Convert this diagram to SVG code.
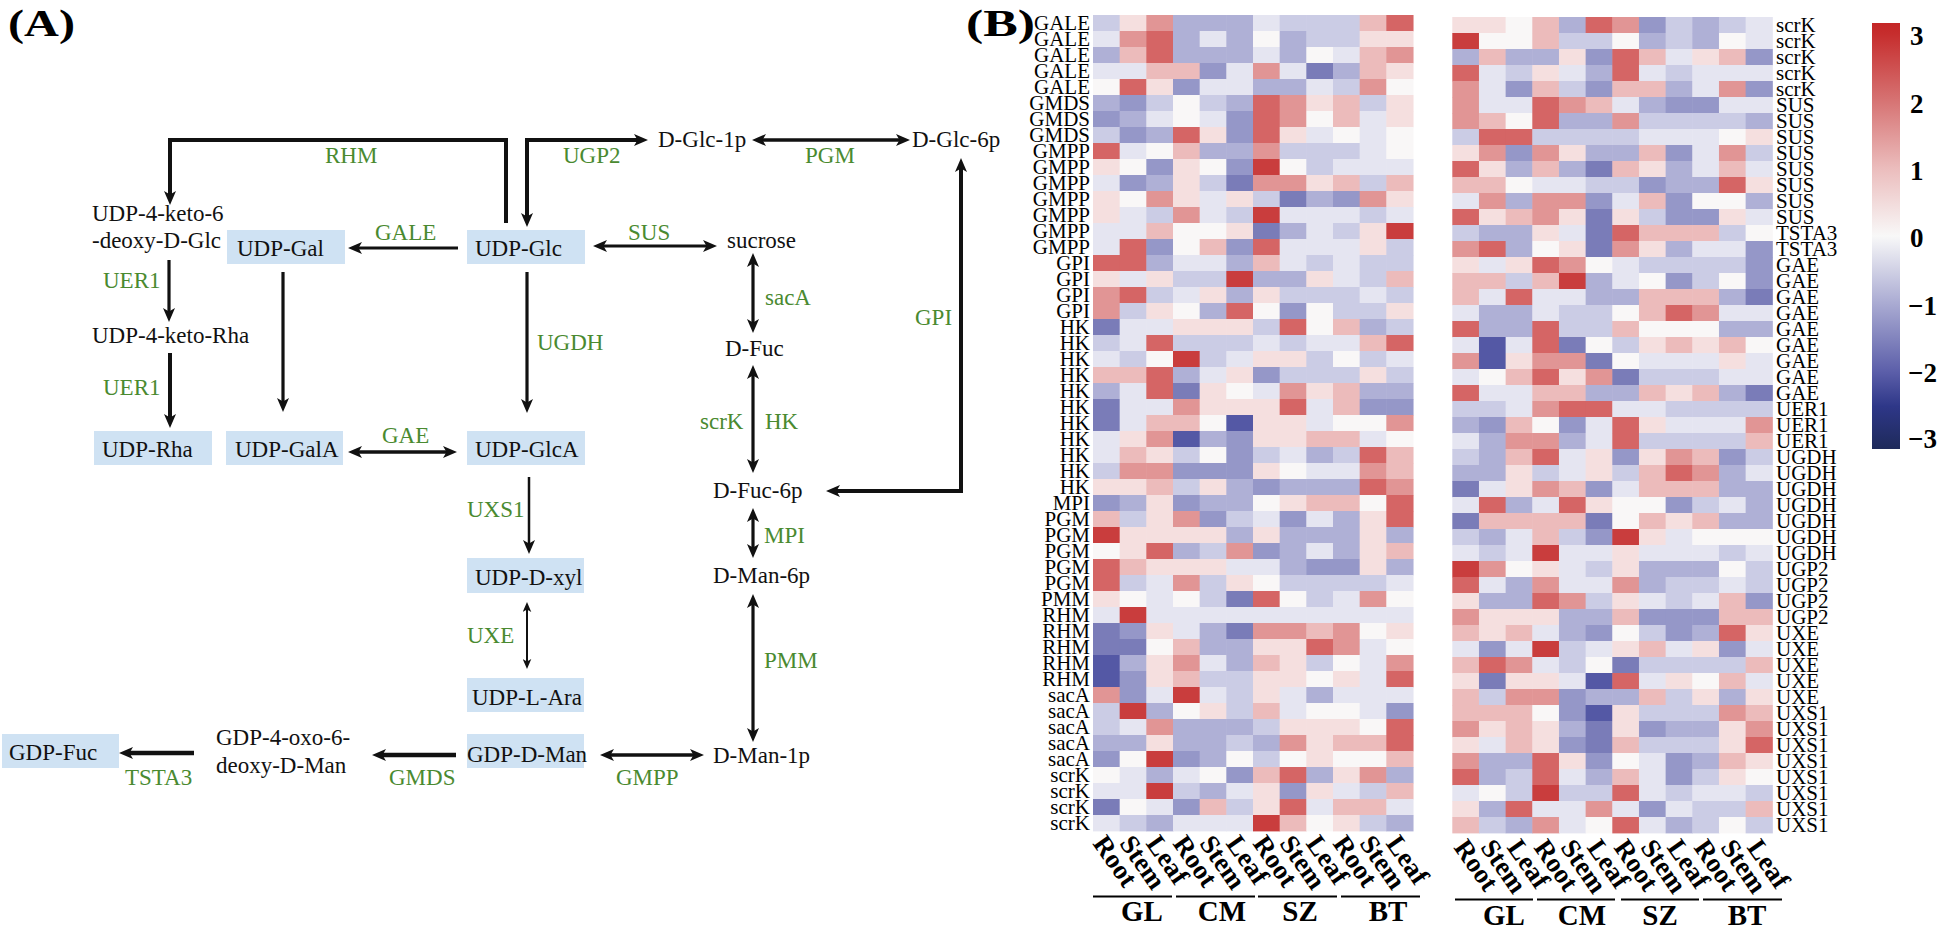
<svg xmlns="http://www.w3.org/2000/svg" xmlns:xlink="http://www.w3.org/1999/xlink" width="1944" height="929" viewBox="0 0 1944 929">
<style>
.t{font-family:"Liberation Serif","Times New Roman",serif;font-size:23px;fill:#111}
.g{font-family:"Liberation Serif","Times New Roman",serif;font-size:23px;fill:#4a8a30}
.bx{fill:#cfe2f3}
.ln{fill:none;stroke:#111;stroke-width:3.2}
.hl{font-family:"Liberation Serif","Times New Roman",serif;font-size:21px;fill:#000}
.cl{font-family:"Liberation Serif","Times New Roman",serif;font-size:27px;font-weight:bold;fill:#000}
.gl{font-family:"Liberation Serif","Times New Roman",serif;font-size:29px;font-weight:bold;fill:#000;text-anchor:middle}
.pl{font-family:"Liberation Serif","Times New Roman",serif;font-size:37px;font-weight:bold;fill:#000}
.R{fill:#c93d3d}.r{fill:#d56565}.m{fill:#e19595}.p{fill:#ecbbbb}.q{fill:#f5dfdf}.w{fill:#f9f7f7}
.l{fill:#e5e5f1}.b{fill:#cbcce5}.B{fill:#afb0d6}.d{fill:#9597c8}.D{fill:#7a7cb8}.N{fill:#5458a5}
</style>
<defs>
<marker id="ah" viewBox="0 0 14 12" markerWidth="14" markerHeight="12" refX="7" refY="6" orient="auto-start-reverse" markerUnits="userSpaceOnUse"><path d="M0,0 L14,6 L0,12 L3.5,6 Z" fill="#111"/></marker>
<marker id="as" viewBox="0 0 14 12" markerWidth="10" markerHeight="9" refX="7" refY="6" orient="auto-start-reverse" markerUnits="userSpaceOnUse"><path d="M0,0 L14,6 L0,12 L3.5,6 Z" fill="#111"/></marker>
<rect id="c" width="27.2" height="16.4"/>
<linearGradient id="cb" x1="0" y1="0" x2="0" y2="1">
<stop offset="0" stop-color="#c42626"/>
<stop offset="0.025" stop-color="#c62d2d"/>
<stop offset="0.18" stop-color="#d67272"/>
<stop offset="0.34" stop-color="#ebbcbc"/>
<stop offset="0.5" stop-color="#f8f8f8"/>
<stop offset="0.66" stop-color="#a9aad2"/>
<stop offset="0.82" stop-color="#5b5ea9"/>
<stop offset="0.90" stop-color="#2e3788"/>
<stop offset="1" stop-color="#1e2a5a"/>
</linearGradient>
</defs>
<rect width="1944" height="929" fill="#fff"/>

<text class="pl" x="8" y="36" textLength="67" lengthAdjust="spacingAndGlyphs">(A)</text>
<text class="pl" x="966" y="36" textLength="69" lengthAdjust="spacingAndGlyphs">(B)</text>

<g id="connectors">
<path class="ln" style="stroke-width:4" d="M506,223 V140 H170 V198" marker-end="url(#ah)"/>
<path class="ln" style="stroke-width:4" d="M527,220 V140 H641" marker-start="url(#ah)" marker-end="url(#ah)"/>
<path class="ln" style="stroke-width:3.5" d="M759,140 H903" marker-start="url(#ah)" marker-end="url(#ah)"/>
<path class="ln" style="stroke-width:4" d="M961,165 V491 H833" marker-start="url(#ah)" marker-end="url(#ah)"/>
<path class="ln" d="M458,248 H355" marker-end="url(#ah)"/>
<path class="ln" d="M600,246 H710" marker-start="url(#ah)" marker-end="url(#ah)"/>
<path class="ln" d="M169,260 V315" marker-end="url(#ah)"/>
<path class="ln" style="stroke-width:4" d="M170,353 V421" marker-end="url(#ah)"/>
<path class="ln" d="M283,272 V405" marker-end="url(#ah)"/>
<path class="ln" d="M527,272 V406" marker-end="url(#ah)"/>
<path class="ln" style="stroke-width:3.6" d="M355,452 H450" marker-start="url(#ah)" marker-end="url(#ah)"/>
<path class="ln" d="M753,260 V326" marker-start="url(#ah)" marker-end="url(#ah)"/>
<path class="ln" d="M753,372 V466" marker-start="url(#ah)" marker-end="url(#ah)"/>
<path class="ln" d="M753,515 V551" marker-start="url(#ah)" marker-end="url(#ah)"/>
<path class="ln" d="M753,601 V735" marker-start="url(#ah)" marker-end="url(#ah)"/>
<path class="ln" style="stroke-width:2.5" d="M529,477 V547" marker-end="url(#ah)"/>
<path class="ln" style="stroke-width:2" d="M527,607 V664" marker-start="url(#as)" marker-end="url(#as)"/>
<path class="ln" style="stroke-width:3.6" d="M607,755 H697" marker-start="url(#ah)" marker-end="url(#ah)"/>
<path class="ln" style="stroke-width:4.5" d="M456,755 H379" marker-end="url(#ah)"/>
<path class="ln" style="stroke-width:4.5" d="M194,753 H126" marker-end="url(#ah)"/>
</g>

<g id="enzymes">
<text class="g" x="325" y="163">RHM</text>
<text class="g" x="563" y="163">UGP2</text>
<text class="g" x="805" y="163">PGM</text>
<text class="g" x="375" y="240">GALE</text>
<text class="g" x="628" y="240">SUS</text>
<text class="g" x="103" y="288">UER1</text>
<text class="g" x="103" y="395">UER1</text>
<text class="g" x="537" y="350">UGDH</text>
<text class="g" x="765" y="305">sacA</text>
<text class="g" x="915" y="325">GPI</text>
<text class="g" x="382" y="443">GAE</text>
<text class="g" x="700" y="429">scrK</text>
<text class="g" x="765" y="429">HK</text>
<text class="g" x="467" y="517">UXS1</text>
<text class="g" x="764" y="543">MPI</text>
<text class="g" x="467" y="643">UXE</text>
<text class="g" x="764" y="668">PMM</text>
<text class="g" x="616" y="785">GMPP</text>
<text class="g" x="389" y="785">GMDS</text>
<text class="g" x="125" y="785">TSTA3</text>
</g>

<g id="n-udp-keto-deoxy"><text class="t" x="92" y="221">UDP-4-keto-6</text><text class="t" x="92" y="248">-deoxy-D-Glc</text></g>
<g id="n-udp-keto-rha"><text class="t" x="92" y="343">UDP-4-keto-Rha</text></g>
<g id="n-udp-gal"><rect class="bx" x="227" y="230" width="118" height="34"/><text class="t" x="237" y="256">UDP-Gal</text></g>
<g id="n-udp-glc"><rect class="bx" x="467" y="230" width="118" height="34"/><text class="t" x="475" y="256">UDP-Glc</text></g>
<g id="n-udp-rha"><rect class="bx" x="94" y="431" width="118" height="34"/><text class="t" x="102" y="457">UDP-Rha</text></g>
<g id="n-udp-gala"><rect class="bx" x="226" y="431" width="117" height="34"/><text class="t" x="235" y="457">UDP-GalA</text></g>
<g id="n-udp-glca"><rect class="bx" x="467" y="431" width="118" height="34"/><text class="t" x="475" y="457">UDP-GlcA</text></g>
<g id="n-udp-xyl"><rect class="bx" x="467" y="558" width="117" height="35"/><text class="t" x="475" y="585">UDP-D-xyl</text></g>
<g id="n-udp-ara"><rect class="bx" x="467" y="678" width="117" height="34"/><text class="t" x="472" y="705">UDP-L-Ara</text></g>
<g id="n-gdp-man"><rect class="bx" x="467" y="734" width="117" height="34"/><text class="t" x="467" y="762">GDP-D-Man</text></g>
<g id="n-gdp-fuc"><rect class="bx" x="2" y="734" width="117" height="34"/><text class="t" x="9" y="760">GDP-Fuc</text></g>
<g id="n-gdp-oxo"><text class="t" x="216" y="745">GDP-4-oxo-6-</text><text class="t" x="216" y="773">deoxy-D-Man</text></g>
<g id="n-glc1p"><text class="t" x="658" y="147">D-Glc-1p</text></g>
<g id="n-glc6p"><text class="t" x="912" y="147">D-Glc-6p</text></g>
<g id="n-sucrose"><text class="t" x="727" y="248">sucrose</text></g>
<g id="n-fuc"><text class="t" x="725" y="356">D-Fuc</text></g>
<g id="n-fuc6p"><text class="t" x="713" y="498">D-Fuc-6p</text></g>
<g id="n-man6p"><text class="t" x="713" y="583">D-Man-6p</text></g>
<g id="n-man1p"><text class="t" x="713" y="763">D-Man-1p</text></g>

<g id="heatmap-left">
<g transform="translate(1093,15)"><use href="#c" class="b"/><use href="#c" x="26.67" class="q"/><use href="#c" x="53.33" class="m"/><use href="#c" x="80" class="B"/><use href="#c" x="106.67" class="B"/><use href="#c" x="133.33" class="B"/><use href="#c" x="160" class="l"/><use href="#c" x="186.67" class="b"/><use href="#c" x="213.33" class="b"/><use href="#c" x="240" class="b"/><use href="#c" x="266.67" class="p"/><use href="#c" x="293.33" class="r"/></g>
<g transform="translate(1093,31)"><use href="#c" class="l"/><use href="#c" x="26.67" class="m"/><use href="#c" x="53.33" class="r"/><use href="#c" x="80" class="B"/><use href="#c" x="106.67" class="l"/><use href="#c" x="133.33" class="B"/><use href="#c" x="160" class="w"/><use href="#c" x="186.67" class="B"/><use href="#c" x="213.33" class="b"/><use href="#c" x="240" class="b"/><use href="#c" x="266.67" class="q"/><use href="#c" x="293.33" class="q"/></g>
<g transform="translate(1093,47)"><use href="#c" class="B"/><use href="#c" x="26.67" class="p"/><use href="#c" x="53.33" class="r"/><use href="#c" x="80" class="B"/><use href="#c" x="106.67" class="B"/><use href="#c" x="133.33" class="B"/><use href="#c" x="160" class="l"/><use href="#c" x="186.67" class="B"/><use href="#c" x="213.33" class="w"/><use href="#c" x="240" class="l"/><use href="#c" x="266.67" class="p"/><use href="#c" x="293.33" class="m"/></g>
<g transform="translate(1093,63)"><use href="#c" class="l"/><use href="#c" x="26.67" class="l"/><use href="#c" x="53.33" class="p"/><use href="#c" x="80" class="p"/><use href="#c" x="106.67" class="d"/><use href="#c" x="133.33" class="l"/><use href="#c" x="160" class="m"/><use href="#c" x="186.67" class="l"/><use href="#c" x="213.33" class="D"/><use href="#c" x="240" class="B"/><use href="#c" x="266.67" class="p"/><use href="#c" x="293.33" class="q"/></g>
<g transform="translate(1093,79)"><use href="#c" class="w"/><use href="#c" x="26.67" class="r"/><use href="#c" x="53.33" class="q"/><use href="#c" x="80" class="d"/><use href="#c" x="106.67" class="l"/><use href="#c" x="133.33" class="l"/><use href="#c" x="160" class="B"/><use href="#c" x="186.67" class="B"/><use href="#c" x="213.33" class="l"/><use href="#c" x="240" class="b"/><use href="#c" x="266.67" class="m"/><use href="#c" x="293.33" class="w"/></g>
<g transform="translate(1093,95)"><use href="#c" class="B"/><use href="#c" x="26.67" class="d"/><use href="#c" x="53.33" class="b"/><use href="#c" x="80" class="w"/><use href="#c" x="106.67" class="b"/><use href="#c" x="133.33" class="B"/><use href="#c" x="160" class="r"/><use href="#c" x="186.67" class="m"/><use href="#c" x="213.33" class="q"/><use href="#c" x="240" class="p"/><use href="#c" x="266.67" class="b"/><use href="#c" x="293.33" class="q"/></g>
<g transform="translate(1093,111)"><use href="#c" class="d"/><use href="#c" x="26.67" class="B"/><use href="#c" x="53.33" class="l"/><use href="#c" x="80" class="w"/><use href="#c" x="106.67" class="l"/><use href="#c" x="133.33" class="d"/><use href="#c" x="160" class="r"/><use href="#c" x="186.67" class="m"/><use href="#c" x="213.33" class="w"/><use href="#c" x="240" class="p"/><use href="#c" x="266.67" class="l"/><use href="#c" x="293.33" class="q"/></g>
<g transform="translate(1093,127)"><use href="#c" class="b"/><use href="#c" x="26.67" class="d"/><use href="#c" x="53.33" class="B"/><use href="#c" x="80" class="r"/><use href="#c" x="106.67" class="q"/><use href="#c" x="133.33" class="d"/><use href="#c" x="160" class="r"/><use href="#c" x="186.67" class="q"/><use href="#c" x="213.33" class="l"/><use href="#c" x="240" class="w"/><use href="#c" x="266.67" class="l"/><use href="#c" x="293.33" class="w"/></g>
<g transform="translate(1093,143)"><use href="#c" class="r"/><use href="#c" x="26.67" class="l"/><use href="#c" x="53.33" class="w"/><use href="#c" x="80" class="p"/><use href="#c" x="106.67" class="B"/><use href="#c" x="133.33" class="B"/><use href="#c" x="160" class="m"/><use href="#c" x="186.67" class="b"/><use href="#c" x="213.33" class="b"/><use href="#c" x="240" class="b"/><use href="#c" x="266.67" class="l"/><use href="#c" x="293.33" class="w"/></g>
<g transform="translate(1093,159)"><use href="#c" class="q"/><use href="#c" x="26.67" class="w"/><use href="#c" x="53.33" class="d"/><use href="#c" x="80" class="q"/><use href="#c" x="106.67" class="w"/><use href="#c" x="133.33" class="d"/><use href="#c" x="160" class="R"/><use href="#c" x="186.67" class="w"/><use href="#c" x="213.33" class="b"/><use href="#c" x="240" class="l"/><use href="#c" x="266.67" class="l"/><use href="#c" x="293.33" class="l"/></g>
<g transform="translate(1093,175)"><use href="#c" class="l"/><use href="#c" x="26.67" class="d"/><use href="#c" x="53.33" class="B"/><use href="#c" x="80" class="q"/><use href="#c" x="106.67" class="b"/><use href="#c" x="133.33" class="D"/><use href="#c" x="160" class="m"/><use href="#c" x="186.67" class="m"/><use href="#c" x="213.33" class="q"/><use href="#c" x="240" class="p"/><use href="#c" x="266.67" class="b"/><use href="#c" x="293.33" class="p"/></g>
<g transform="translate(1093,191)"><use href="#c" class="q"/><use href="#c" x="26.67" class="w"/><use href="#c" x="53.33" class="m"/><use href="#c" x="80" class="q"/><use href="#c" x="106.67" class="l"/><use href="#c" x="133.33" class="q"/><use href="#c" x="160" class="b"/><use href="#c" x="186.67" class="D"/><use href="#c" x="213.33" class="B"/><use href="#c" x="240" class="d"/><use href="#c" x="266.67" class="m"/><use href="#c" x="293.33" class="q"/></g>
<g transform="translate(1093,207)"><use href="#c" class="q"/><use href="#c" x="26.67" class="l"/><use href="#c" x="53.33" class="b"/><use href="#c" x="80" class="m"/><use href="#c" x="106.67" class="l"/><use href="#c" x="133.33" class="b"/><use href="#c" x="160" class="R"/><use href="#c" x="186.67" class="l"/><use href="#c" x="213.33" class="l"/><use href="#c" x="240" class="l"/><use href="#c" x="266.67" class="b"/><use href="#c" x="293.33" class="l"/></g>
<g transform="translate(1093,223)"><use href="#c" class="l"/><use href="#c" x="26.67" class="l"/><use href="#c" x="53.33" class="p"/><use href="#c" x="80" class="w"/><use href="#c" x="106.67" class="w"/><use href="#c" x="133.33" class="q"/><use href="#c" x="160" class="D"/><use href="#c" x="186.67" class="B"/><use href="#c" x="213.33" class="l"/><use href="#c" x="240" class="b"/><use href="#c" x="266.67" class="q"/><use href="#c" x="293.33" class="R"/></g>
<g transform="translate(1093,239)"><use href="#c" class="l"/><use href="#c" x="26.67" class="r"/><use href="#c" x="53.33" class="d"/><use href="#c" x="80" class="w"/><use href="#c" x="106.67" class="p"/><use href="#c" x="133.33" class="d"/><use href="#c" x="160" class="r"/><use href="#c" x="186.67" class="l"/><use href="#c" x="213.33" class="l"/><use href="#c" x="240" class="l"/><use href="#c" x="266.67" class="q"/><use href="#c" x="293.33" class="b"/></g>
<g transform="translate(1093,255)"><use href="#c" class="r"/><use href="#c" x="26.67" class="r"/><use href="#c" x="53.33" class="B"/><use href="#c" x="80" class="l"/><use href="#c" x="106.67" class="l"/><use href="#c" x="133.33" class="B"/><use href="#c" x="160" class="p"/><use href="#c" x="186.67" class="l"/><use href="#c" x="213.33" class="b"/><use href="#c" x="240" class="l"/><use href="#c" x="266.67" class="b"/><use href="#c" x="293.33" class="b"/></g>
<g transform="translate(1093,271)"><use href="#c" class="q"/><use href="#c" x="26.67" class="l"/><use href="#c" x="53.33" class="q"/><use href="#c" x="80" class="b"/><use href="#c" x="106.67" class="b"/><use href="#c" x="133.33" class="R"/><use href="#c" x="160" class="B"/><use href="#c" x="186.67" class="B"/><use href="#c" x="213.33" class="q"/><use href="#c" x="240" class="l"/><use href="#c" x="266.67" class="b"/><use href="#c" x="293.33" class="p"/></g>
<g transform="translate(1093,287)"><use href="#c" class="m"/><use href="#c" x="26.67" class="r"/><use href="#c" x="53.33" class="b"/><use href="#c" x="80" class="l"/><use href="#c" x="106.67" class="q"/><use href="#c" x="133.33" class="B"/><use href="#c" x="160" class="q"/><use href="#c" x="186.67" class="b"/><use href="#c" x="213.33" class="b"/><use href="#c" x="240" class="b"/><use href="#c" x="266.67" class="l"/><use href="#c" x="293.33" class="b"/></g>
<g transform="translate(1093,303)"><use href="#c" class="m"/><use href="#c" x="26.67" class="b"/><use href="#c" x="53.33" class="q"/><use href="#c" x="80" class="w"/><use href="#c" x="106.67" class="B"/><use href="#c" x="133.33" class="r"/><use href="#c" x="160" class="w"/><use href="#c" x="186.67" class="d"/><use href="#c" x="213.33" class="w"/><use href="#c" x="240" class="b"/><use href="#c" x="266.67" class="b"/><use href="#c" x="293.33" class="q"/></g>
<g transform="translate(1093,319)"><use href="#c" class="D"/><use href="#c" x="26.67" class="l"/><use href="#c" x="53.33" class="l"/><use href="#c" x="80" class="q"/><use href="#c" x="106.67" class="q"/><use href="#c" x="133.33" class="q"/><use href="#c" x="160" class="b"/><use href="#c" x="186.67" class="r"/><use href="#c" x="213.33" class="w"/><use href="#c" x="240" class="p"/><use href="#c" x="266.67" class="B"/><use href="#c" x="293.33" class="b"/></g>
<g transform="translate(1093,335)"><use href="#c" class="b"/><use href="#c" x="26.67" class="l"/><use href="#c" x="53.33" class="r"/><use href="#c" x="80" class="b"/><use href="#c" x="106.67" class="b"/><use href="#c" x="133.33" class="b"/><use href="#c" x="160" class="l"/><use href="#c" x="186.67" class="b"/><use href="#c" x="213.33" class="l"/><use href="#c" x="240" class="l"/><use href="#c" x="266.67" class="p"/><use href="#c" x="293.33" class="r"/></g>
<g transform="translate(1093,351)"><use href="#c" class="l"/><use href="#c" x="26.67" class="b"/><use href="#c" x="53.33" class="w"/><use href="#c" x="80" class="R"/><use href="#c" x="106.67" class="b"/><use href="#c" x="133.33" class="l"/><use href="#c" x="160" class="q"/><use href="#c" x="186.67" class="q"/><use href="#c" x="213.33" class="b"/><use href="#c" x="240" class="w"/><use href="#c" x="266.67" class="b"/><use href="#c" x="293.33" class="l"/></g>
<g transform="translate(1093,367)"><use href="#c" class="p"/><use href="#c" x="26.67" class="p"/><use href="#c" x="53.33" class="r"/><use href="#c" x="80" class="B"/><use href="#c" x="106.67" class="l"/><use href="#c" x="133.33" class="q"/><use href="#c" x="160" class="d"/><use href="#c" x="186.67" class="b"/><use href="#c" x="213.33" class="b"/><use href="#c" x="240" class="b"/><use href="#c" x="266.67" class="q"/><use href="#c" x="293.33" class="b"/></g>
<g transform="translate(1093,383)"><use href="#c" class="B"/><use href="#c" x="26.67" class="l"/><use href="#c" x="53.33" class="r"/><use href="#c" x="80" class="D"/><use href="#c" x="106.67" class="q"/><use href="#c" x="133.33" class="w"/><use href="#c" x="160" class="l"/><use href="#c" x="186.67" class="m"/><use href="#c" x="213.33" class="q"/><use href="#c" x="240" class="p"/><use href="#c" x="266.67" class="B"/><use href="#c" x="293.33" class="B"/></g>
<g transform="translate(1093,399)"><use href="#c" class="D"/><use href="#c" x="26.67" class="l"/><use href="#c" x="53.33" class="l"/><use href="#c" x="80" class="m"/><use href="#c" x="106.67" class="q"/><use href="#c" x="133.33" class="q"/><use href="#c" x="160" class="q"/><use href="#c" x="186.67" class="r"/><use href="#c" x="213.33" class="l"/><use href="#c" x="240" class="p"/><use href="#c" x="266.67" class="d"/><use href="#c" x="293.33" class="d"/></g>
<g transform="translate(1093,415)"><use href="#c" class="D"/><use href="#c" x="26.67" class="l"/><use href="#c" x="53.33" class="p"/><use href="#c" x="80" class="p"/><use href="#c" x="106.67" class="w"/><use href="#c" x="133.33" class="N"/><use href="#c" x="160" class="q"/><use href="#c" x="186.67" class="q"/><use href="#c" x="213.33" class="l"/><use href="#c" x="240" class="w"/><use href="#c" x="266.67" class="w"/><use href="#c" x="293.33" class="m"/></g>
<g transform="translate(1093,431)"><use href="#c" class="l"/><use href="#c" x="26.67" class="q"/><use href="#c" x="53.33" class="m"/><use href="#c" x="80" class="N"/><use href="#c" x="106.67" class="B"/><use href="#c" x="133.33" class="d"/><use href="#c" x="160" class="q"/><use href="#c" x="186.67" class="q"/><use href="#c" x="213.33" class="p"/><use href="#c" x="240" class="p"/><use href="#c" x="266.67" class="l"/><use href="#c" x="293.33" class="w"/></g>
<g transform="translate(1093,447)"><use href="#c" class="l"/><use href="#c" x="26.67" class="p"/><use href="#c" x="53.33" class="q"/><use href="#c" x="80" class="b"/><use href="#c" x="106.67" class="w"/><use href="#c" x="133.33" class="d"/><use href="#c" x="160" class="b"/><use href="#c" x="186.67" class="l"/><use href="#c" x="213.33" class="B"/><use href="#c" x="240" class="b"/><use href="#c" x="266.67" class="r"/><use href="#c" x="293.33" class="p"/></g>
<g transform="translate(1093,463)"><use href="#c" class="b"/><use href="#c" x="26.67" class="m"/><use href="#c" x="53.33" class="m"/><use href="#c" x="80" class="d"/><use href="#c" x="106.67" class="d"/><use href="#c" x="133.33" class="d"/><use href="#c" x="160" class="q"/><use href="#c" x="186.67" class="w"/><use href="#c" x="213.33" class="l"/><use href="#c" x="240" class="l"/><use href="#c" x="266.67" class="m"/><use href="#c" x="293.33" class="p"/></g>
<g transform="translate(1093,479)"><use href="#c" class="q"/><use href="#c" x="26.67" class="q"/><use href="#c" x="53.33" class="p"/><use href="#c" x="80" class="b"/><use href="#c" x="106.67" class="q"/><use href="#c" x="133.33" class="B"/><use href="#c" x="160" class="d"/><use href="#c" x="186.67" class="B"/><use href="#c" x="213.33" class="B"/><use href="#c" x="240" class="B"/><use href="#c" x="266.67" class="r"/><use href="#c" x="293.33" class="m"/></g>
<g transform="translate(1093,495)"><use href="#c" class="d"/><use href="#c" x="26.67" class="B"/><use href="#c" x="53.33" class="q"/><use href="#c" x="80" class="d"/><use href="#c" x="106.67" class="B"/><use href="#c" x="133.33" class="B"/><use href="#c" x="160" class="w"/><use href="#c" x="186.67" class="q"/><use href="#c" x="213.33" class="p"/><use href="#c" x="240" class="p"/><use href="#c" x="266.67" class="w"/><use href="#c" x="293.33" class="r"/></g>
<g transform="translate(1093,511)"><use href="#c" class="p"/><use href="#c" x="26.67" class="b"/><use href="#c" x="53.33" class="q"/><use href="#c" x="80" class="m"/><use href="#c" x="106.67" class="d"/><use href="#c" x="133.33" class="b"/><use href="#c" x="160" class="l"/><use href="#c" x="186.67" class="d"/><use href="#c" x="213.33" class="l"/><use href="#c" x="240" class="B"/><use href="#c" x="266.67" class="q"/><use href="#c" x="293.33" class="r"/></g>
<g transform="translate(1093,527)"><use href="#c" class="R"/><use href="#c" x="26.67" class="q"/><use href="#c" x="53.33" class="q"/><use href="#c" x="80" class="q"/><use href="#c" x="106.67" class="q"/><use href="#c" x="133.33" class="B"/><use href="#c" x="160" class="q"/><use href="#c" x="186.67" class="B"/><use href="#c" x="213.33" class="B"/><use href="#c" x="240" class="B"/><use href="#c" x="266.67" class="q"/><use href="#c" x="293.33" class="B"/></g>
<g transform="translate(1093,543)"><use href="#c" class="w"/><use href="#c" x="26.67" class="q"/><use href="#c" x="53.33" class="r"/><use href="#c" x="80" class="B"/><use href="#c" x="106.67" class="b"/><use href="#c" x="133.33" class="m"/><use href="#c" x="160" class="d"/><use href="#c" x="186.67" class="B"/><use href="#c" x="213.33" class="l"/><use href="#c" x="240" class="B"/><use href="#c" x="266.67" class="q"/><use href="#c" x="293.33" class="p"/></g>
<g transform="translate(1093,559)"><use href="#c" class="r"/><use href="#c" x="26.67" class="p"/><use href="#c" x="53.33" class="q"/><use href="#c" x="80" class="q"/><use href="#c" x="106.67" class="q"/><use href="#c" x="133.33" class="l"/><use href="#c" x="160" class="l"/><use href="#c" x="186.67" class="B"/><use href="#c" x="213.33" class="d"/><use href="#c" x="240" class="d"/><use href="#c" x="266.67" class="q"/><use href="#c" x="293.33" class="B"/></g>
<g transform="translate(1093,575)"><use href="#c" class="r"/><use href="#c" x="26.67" class="b"/><use href="#c" x="53.33" class="l"/><use href="#c" x="80" class="m"/><use href="#c" x="106.67" class="b"/><use href="#c" x="133.33" class="q"/><use href="#c" x="160" class="w"/><use href="#c" x="186.67" class="b"/><use href="#c" x="213.33" class="b"/><use href="#c" x="240" class="b"/><use href="#c" x="266.67" class="b"/><use href="#c" x="293.33" class="l"/></g>
<g transform="translate(1093,591)"><use href="#c" class="q"/><use href="#c" x="26.67" class="w"/><use href="#c" x="53.33" class="l"/><use href="#c" x="80" class="w"/><use href="#c" x="106.67" class="b"/><use href="#c" x="133.33" class="D"/><use href="#c" x="160" class="r"/><use href="#c" x="186.67" class="w"/><use href="#c" x="213.33" class="b"/><use href="#c" x="240" class="l"/><use href="#c" x="266.67" class="m"/><use href="#c" x="293.33" class="w"/></g>
<g transform="translate(1093,607)"><use href="#c" class="l"/><use href="#c" x="26.67" class="R"/><use href="#c" x="53.33" class="l"/><use href="#c" x="80" class="l"/><use href="#c" x="106.67" class="l"/><use href="#c" x="133.33" class="l"/><use href="#c" x="160" class="l"/><use href="#c" x="186.67" class="l"/><use href="#c" x="213.33" class="l"/><use href="#c" x="240" class="l"/><use href="#c" x="266.67" class="l"/><use href="#c" x="293.33" class="l"/></g>
<g transform="translate(1093,623)"><use href="#c" class="D"/><use href="#c" x="26.67" class="d"/><use href="#c" x="53.33" class="q"/><use href="#c" x="80" class="l"/><use href="#c" x="106.67" class="B"/><use href="#c" x="133.33" class="D"/><use href="#c" x="160" class="m"/><use href="#c" x="186.67" class="m"/><use href="#c" x="213.33" class="p"/><use href="#c" x="240" class="m"/><use href="#c" x="266.67" class="w"/><use href="#c" x="293.33" class="q"/></g>
<g transform="translate(1093,639)"><use href="#c" class="D"/><use href="#c" x="26.67" class="D"/><use href="#c" x="53.33" class="w"/><use href="#c" x="80" class="p"/><use href="#c" x="106.67" class="B"/><use href="#c" x="133.33" class="B"/><use href="#c" x="160" class="q"/><use href="#c" x="186.67" class="q"/><use href="#c" x="213.33" class="r"/><use href="#c" x="240" class="m"/><use href="#c" x="266.67" class="l"/><use href="#c" x="293.33" class="w"/></g>
<g transform="translate(1093,655)"><use href="#c" class="N"/><use href="#c" x="26.67" class="B"/><use href="#c" x="53.33" class="q"/><use href="#c" x="80" class="m"/><use href="#c" x="106.67" class="l"/><use href="#c" x="133.33" class="B"/><use href="#c" x="160" class="p"/><use href="#c" x="186.67" class="q"/><use href="#c" x="213.33" class="b"/><use href="#c" x="240" class="w"/><use href="#c" x="266.67" class="l"/><use href="#c" x="293.33" class="m"/></g>
<g transform="translate(1093,671)"><use href="#c" class="N"/><use href="#c" x="26.67" class="d"/><use href="#c" x="53.33" class="q"/><use href="#c" x="80" class="p"/><use href="#c" x="106.67" class="b"/><use href="#c" x="133.33" class="b"/><use href="#c" x="160" class="q"/><use href="#c" x="186.67" class="q"/><use href="#c" x="213.33" class="w"/><use href="#c" x="240" class="q"/><use href="#c" x="266.67" class="l"/><use href="#c" x="293.33" class="r"/></g>
<g transform="translate(1093,687)"><use href="#c" class="m"/><use href="#c" x="26.67" class="d"/><use href="#c" x="53.33" class="l"/><use href="#c" x="80" class="R"/><use href="#c" x="106.67" class="l"/><use href="#c" x="133.33" class="b"/><use href="#c" x="160" class="q"/><use href="#c" x="186.67" class="l"/><use href="#c" x="213.33" class="B"/><use href="#c" x="240" class="l"/><use href="#c" x="266.67" class="l"/><use href="#c" x="293.33" class="l"/></g>
<g transform="translate(1093,703)"><use href="#c" class="b"/><use href="#c" x="26.67" class="R"/><use href="#c" x="53.33" class="B"/><use href="#c" x="80" class="w"/><use href="#c" x="106.67" class="q"/><use href="#c" x="133.33" class="b"/><use href="#c" x="160" class="p"/><use href="#c" x="186.67" class="l"/><use href="#c" x="213.33" class="w"/><use href="#c" x="240" class="w"/><use href="#c" x="266.67" class="l"/><use href="#c" x="293.33" class="d"/></g>
<g transform="translate(1093,719)"><use href="#c" class="b"/><use href="#c" x="26.67" class="l"/><use href="#c" x="53.33" class="m"/><use href="#c" x="80" class="B"/><use href="#c" x="106.67" class="B"/><use href="#c" x="133.33" class="B"/><use href="#c" x="160" class="b"/><use href="#c" x="186.67" class="q"/><use href="#c" x="213.33" class="q"/><use href="#c" x="240" class="q"/><use href="#c" x="266.67" class="w"/><use href="#c" x="293.33" class="r"/></g>
<g transform="translate(1093,735)"><use href="#c" class="B"/><use href="#c" x="26.67" class="B"/><use href="#c" x="53.33" class="q"/><use href="#c" x="80" class="B"/><use href="#c" x="106.67" class="B"/><use href="#c" x="133.33" class="b"/><use href="#c" x="160" class="B"/><use href="#c" x="186.67" class="m"/><use href="#c" x="213.33" class="q"/><use href="#c" x="240" class="p"/><use href="#c" x="266.67" class="p"/><use href="#c" x="293.33" class="r"/></g>
<g transform="translate(1093,751)"><use href="#c" class="d"/><use href="#c" x="26.67" class="w"/><use href="#c" x="53.33" class="R"/><use href="#c" x="80" class="d"/><use href="#c" x="106.67" class="B"/><use href="#c" x="133.33" class="w"/><use href="#c" x="160" class="b"/><use href="#c" x="186.67" class="w"/><use href="#c" x="213.33" class="q"/><use href="#c" x="240" class="w"/><use href="#c" x="266.67" class="w"/><use href="#c" x="293.33" class="p"/></g>
<g transform="translate(1093,767)"><use href="#c" class="w"/><use href="#c" x="26.67" class="l"/><use href="#c" x="53.33" class="B"/><use href="#c" x="80" class="l"/><use href="#c" x="106.67" class="w"/><use href="#c" x="133.33" class="d"/><use href="#c" x="160" class="p"/><use href="#c" x="186.67" class="r"/><use href="#c" x="213.33" class="B"/><use href="#c" x="240" class="q"/><use href="#c" x="266.67" class="m"/><use href="#c" x="293.33" class="B"/></g>
<g transform="translate(1093,783)"><use href="#c" class="l"/><use href="#c" x="26.67" class="l"/><use href="#c" x="53.33" class="R"/><use href="#c" x="80" class="b"/><use href="#c" x="106.67" class="B"/><use href="#c" x="133.33" class="l"/><use href="#c" x="160" class="q"/><use href="#c" x="186.67" class="d"/><use href="#c" x="213.33" class="q"/><use href="#c" x="240" class="l"/><use href="#c" x="266.67" class="b"/><use href="#c" x="293.33" class="p"/></g>
<g transform="translate(1093,799)"><use href="#c" class="D"/><use href="#c" x="26.67" class="w"/><use href="#c" x="53.33" class="l"/><use href="#c" x="80" class="d"/><use href="#c" x="106.67" class="p"/><use href="#c" x="133.33" class="b"/><use href="#c" x="160" class="q"/><use href="#c" x="186.67" class="r"/><use href="#c" x="213.33" class="l"/><use href="#c" x="240" class="p"/><use href="#c" x="266.67" class="p"/><use href="#c" x="293.33" class="l"/></g>
<g transform="translate(1093,815)"><use href="#c" class="l"/><use href="#c" x="26.67" class="b"/><use href="#c" x="53.33" class="B"/><use href="#c" x="80" class="l"/><use href="#c" x="106.67" class="l"/><use href="#c" x="133.33" class="l"/><use href="#c" x="160" class="R"/><use href="#c" x="186.67" class="p"/><use href="#c" x="213.33" class="w"/><use href="#c" x="240" class="q"/><use href="#c" x="266.67" class="b"/><use href="#c" x="293.33" class="B"/></g>
</g>

<g id="heatmap-right">
<g transform="translate(1452.3,17)"><use href="#c" class="q"/><use href="#c" x="26.67" class="q"/><use href="#c" x="53.33" class="w"/><use href="#c" x="80" class="p"/><use href="#c" x="106.67" class="B"/><use href="#c" x="133.33" class="r"/><use href="#c" x="160" class="m"/><use href="#c" x="186.67" class="d"/><use href="#c" x="213.33" class="b"/><use href="#c" x="240" class="B"/><use href="#c" x="266.67" class="b"/><use href="#c" x="293.33" class="l"/></g>
<g transform="translate(1452.3,33)"><use href="#c" class="R"/><use href="#c" x="26.67" class="w"/><use href="#c" x="53.33" class="w"/><use href="#c" x="80" class="p"/><use href="#c" x="106.67" class="b"/><use href="#c" x="133.33" class="b"/><use href="#c" x="160" class="w"/><use href="#c" x="186.67" class="B"/><use href="#c" x="213.33" class="b"/><use href="#c" x="240" class="B"/><use href="#c" x="266.67" class="w"/><use href="#c" x="293.33" class="l"/></g>
<g transform="translate(1452.3,49)"><use href="#c" class="B"/><use href="#c" x="26.67" class="p"/><use href="#c" x="53.33" class="B"/><use href="#c" x="80" class="B"/><use href="#c" x="106.67" class="q"/><use href="#c" x="133.33" class="d"/><use href="#c" x="160" class="r"/><use href="#c" x="186.67" class="p"/><use href="#c" x="213.33" class="l"/><use href="#c" x="240" class="q"/><use href="#c" x="266.67" class="p"/><use href="#c" x="293.33" class="d"/></g>
<g transform="translate(1452.3,65)"><use href="#c" class="r"/><use href="#c" x="26.67" class="l"/><use href="#c" x="53.33" class="b"/><use href="#c" x="80" class="q"/><use href="#c" x="106.67" class="l"/><use href="#c" x="133.33" class="B"/><use href="#c" x="160" class="r"/><use href="#c" x="186.67" class="l"/><use href="#c" x="213.33" class="b"/><use href="#c" x="240" class="l"/><use href="#c" x="266.67" class="l"/><use href="#c" x="293.33" class="l"/></g>
<g transform="translate(1452.3,81)"><use href="#c" class="m"/><use href="#c" x="26.67" class="l"/><use href="#c" x="53.33" class="d"/><use href="#c" x="80" class="p"/><use href="#c" x="106.67" class="b"/><use href="#c" x="133.33" class="d"/><use href="#c" x="160" class="p"/><use href="#c" x="186.67" class="p"/><use href="#c" x="213.33" class="B"/><use href="#c" x="240" class="l"/><use href="#c" x="266.67" class="m"/><use href="#c" x="293.33" class="d"/></g>
<g transform="translate(1452.3,97)"><use href="#c" class="m"/><use href="#c" x="26.67" class="l"/><use href="#c" x="53.33" class="l"/><use href="#c" x="80" class="r"/><use href="#c" x="106.67" class="m"/><use href="#c" x="133.33" class="p"/><use href="#c" x="160" class="l"/><use href="#c" x="186.67" class="B"/><use href="#c" x="213.33" class="d"/><use href="#c" x="240" class="d"/><use href="#c" x="266.67" class="l"/><use href="#c" x="293.33" class="l"/></g>
<g transform="translate(1452.3,113)"><use href="#c" class="m"/><use href="#c" x="26.67" class="p"/><use href="#c" x="53.33" class="w"/><use href="#c" x="80" class="r"/><use href="#c" x="106.67" class="B"/><use href="#c" x="133.33" class="B"/><use href="#c" x="160" class="m"/><use href="#c" x="186.67" class="b"/><use href="#c" x="213.33" class="b"/><use href="#c" x="240" class="b"/><use href="#c" x="266.67" class="b"/><use href="#c" x="293.33" class="B"/></g>
<g transform="translate(1452.3,129)"><use href="#c" class="b"/><use href="#c" x="26.67" class="r"/><use href="#c" x="53.33" class="r"/><use href="#c" x="80" class="b"/><use href="#c" x="106.67" class="b"/><use href="#c" x="133.33" class="b"/><use href="#c" x="160" class="b"/><use href="#c" x="186.67" class="l"/><use href="#c" x="213.33" class="l"/><use href="#c" x="240" class="l"/><use href="#c" x="266.67" class="w"/><use href="#c" x="293.33" class="q"/></g>
<g transform="translate(1452.3,145)"><use href="#c" class="q"/><use href="#c" x="26.67" class="m"/><use href="#c" x="53.33" class="d"/><use href="#c" x="80" class="m"/><use href="#c" x="106.67" class="q"/><use href="#c" x="133.33" class="B"/><use href="#c" x="160" class="B"/><use href="#c" x="186.67" class="p"/><use href="#c" x="213.33" class="d"/><use href="#c" x="240" class="l"/><use href="#c" x="266.67" class="m"/><use href="#c" x="293.33" class="b"/></g>
<g transform="translate(1452.3,161)"><use href="#c" class="r"/><use href="#c" x="26.67" class="q"/><use href="#c" x="53.33" class="B"/><use href="#c" x="80" class="p"/><use href="#c" x="106.67" class="B"/><use href="#c" x="133.33" class="D"/><use href="#c" x="160" class="p"/><use href="#c" x="186.67" class="q"/><use href="#c" x="213.33" class="B"/><use href="#c" x="240" class="l"/><use href="#c" x="266.67" class="p"/><use href="#c" x="293.33" class="l"/></g>
<g transform="translate(1452.3,177)"><use href="#c" class="p"/><use href="#c" x="26.67" class="p"/><use href="#c" x="53.33" class="w"/><use href="#c" x="80" class="l"/><use href="#c" x="106.67" class="l"/><use href="#c" x="133.33" class="b"/><use href="#c" x="160" class="b"/><use href="#c" x="186.67" class="d"/><use href="#c" x="213.33" class="B"/><use href="#c" x="240" class="B"/><use href="#c" x="266.67" class="r"/><use href="#c" x="293.33" class="q"/></g>
<g transform="translate(1452.3,193)"><use href="#c" class="l"/><use href="#c" x="26.67" class="m"/><use href="#c" x="53.33" class="B"/><use href="#c" x="80" class="m"/><use href="#c" x="106.67" class="m"/><use href="#c" x="133.33" class="d"/><use href="#c" x="160" class="l"/><use href="#c" x="186.67" class="p"/><use href="#c" x="213.33" class="d"/><use href="#c" x="240" class="w"/><use href="#c" x="266.67" class="w"/><use href="#c" x="293.33" class="B"/></g>
<g transform="translate(1452.3,209)"><use href="#c" class="r"/><use href="#c" x="26.67" class="q"/><use href="#c" x="53.33" class="p"/><use href="#c" x="80" class="m"/><use href="#c" x="106.67" class="q"/><use href="#c" x="133.33" class="D"/><use href="#c" x="160" class="q"/><use href="#c" x="186.67" class="b"/><use href="#c" x="213.33" class="d"/><use href="#c" x="240" class="d"/><use href="#c" x="266.67" class="q"/><use href="#c" x="293.33" class="l"/></g>
<g transform="translate(1452.3,225)"><use href="#c" class="b"/><use href="#c" x="26.67" class="B"/><use href="#c" x="53.33" class="B"/><use href="#c" x="80" class="q"/><use href="#c" x="106.67" class="l"/><use href="#c" x="133.33" class="D"/><use href="#c" x="160" class="r"/><use href="#c" x="186.67" class="p"/><use href="#c" x="213.33" class="p"/><use href="#c" x="240" class="p"/><use href="#c" x="266.67" class="b"/><use href="#c" x="293.33" class="w"/></g>
<g transform="translate(1452.3,241)"><use href="#c" class="m"/><use href="#c" x="26.67" class="r"/><use href="#c" x="53.33" class="B"/><use href="#c" x="80" class="w"/><use href="#c" x="106.67" class="q"/><use href="#c" x="133.33" class="D"/><use href="#c" x="160" class="m"/><use href="#c" x="186.67" class="q"/><use href="#c" x="213.33" class="B"/><use href="#c" x="240" class="l"/><use href="#c" x="266.67" class="l"/><use href="#c" x="293.33" class="d"/></g>
<g transform="translate(1452.3,257)"><use href="#c" class="q"/><use href="#c" x="26.67" class="l"/><use href="#c" x="53.33" class="q"/><use href="#c" x="80" class="r"/><use href="#c" x="106.67" class="m"/><use href="#c" x="133.33" class="w"/><use href="#c" x="160" class="l"/><use href="#c" x="186.67" class="b"/><use href="#c" x="213.33" class="b"/><use href="#c" x="240" class="b"/><use href="#c" x="266.67" class="b"/><use href="#c" x="293.33" class="d"/></g>
<g transform="translate(1452.3,273)"><use href="#c" class="p"/><use href="#c" x="26.67" class="p"/><use href="#c" x="53.33" class="b"/><use href="#c" x="80" class="p"/><use href="#c" x="106.67" class="R"/><use href="#c" x="133.33" class="B"/><use href="#c" x="160" class="l"/><use href="#c" x="186.67" class="w"/><use href="#c" x="213.33" class="d"/><use href="#c" x="240" class="b"/><use href="#c" x="266.67" class="w"/><use href="#c" x="293.33" class="d"/></g>
<g transform="translate(1452.3,289)"><use href="#c" class="p"/><use href="#c" x="26.67" class="l"/><use href="#c" x="53.33" class="r"/><use href="#c" x="80" class="l"/><use href="#c" x="106.67" class="l"/><use href="#c" x="133.33" class="B"/><use href="#c" x="160" class="B"/><use href="#c" x="186.67" class="p"/><use href="#c" x="213.33" class="p"/><use href="#c" x="240" class="p"/><use href="#c" x="266.67" class="B"/><use href="#c" x="293.33" class="D"/></g>
<g transform="translate(1452.3,305)"><use href="#c" class="l"/><use href="#c" x="26.67" class="B"/><use href="#c" x="53.33" class="B"/><use href="#c" x="80" class="l"/><use href="#c" x="106.67" class="b"/><use href="#c" x="133.33" class="b"/><use href="#c" x="160" class="w"/><use href="#c" x="186.67" class="p"/><use href="#c" x="213.33" class="r"/><use href="#c" x="240" class="m"/><use href="#c" x="266.67" class="l"/><use href="#c" x="293.33" class="l"/></g>
<g transform="translate(1452.3,321)"><use href="#c" class="r"/><use href="#c" x="26.67" class="B"/><use href="#c" x="53.33" class="B"/><use href="#c" x="80" class="r"/><use href="#c" x="106.67" class="b"/><use href="#c" x="133.33" class="b"/><use href="#c" x="160" class="p"/><use href="#c" x="186.67" class="w"/><use href="#c" x="213.33" class="w"/><use href="#c" x="240" class="w"/><use href="#c" x="266.67" class="B"/><use href="#c" x="293.33" class="B"/></g>
<g transform="translate(1452.3,337)"><use href="#c" class="l"/><use href="#c" x="26.67" class="N"/><use href="#c" x="53.33" class="l"/><use href="#c" x="80" class="r"/><use href="#c" x="106.67" class="D"/><use href="#c" x="133.33" class="w"/><use href="#c" x="160" class="b"/><use href="#c" x="186.67" class="q"/><use href="#c" x="213.33" class="p"/><use href="#c" x="240" class="q"/><use href="#c" x="266.67" class="p"/><use href="#c" x="293.33" class="w"/></g>
<g transform="translate(1452.3,353)"><use href="#c" class="m"/><use href="#c" x="26.67" class="N"/><use href="#c" x="53.33" class="q"/><use href="#c" x="80" class="m"/><use href="#c" x="106.67" class="m"/><use href="#c" x="133.33" class="D"/><use href="#c" x="160" class="w"/><use href="#c" x="186.67" class="l"/><use href="#c" x="213.33" class="l"/><use href="#c" x="240" class="l"/><use href="#c" x="266.67" class="q"/><use href="#c" x="293.33" class="l"/></g>
<g transform="translate(1452.3,369)"><use href="#c" class="l"/><use href="#c" x="26.67" class="w"/><use href="#c" x="53.33" class="p"/><use href="#c" x="80" class="r"/><use href="#c" x="106.67" class="q"/><use href="#c" x="133.33" class="m"/><use href="#c" x="160" class="D"/><use href="#c" x="186.67" class="b"/><use href="#c" x="213.33" class="b"/><use href="#c" x="240" class="b"/><use href="#c" x="266.67" class="l"/><use href="#c" x="293.33" class="l"/></g>
<g transform="translate(1452.3,385)"><use href="#c" class="r"/><use href="#c" x="26.67" class="l"/><use href="#c" x="53.33" class="l"/><use href="#c" x="80" class="p"/><use href="#c" x="106.67" class="p"/><use href="#c" x="133.33" class="B"/><use href="#c" x="160" class="B"/><use href="#c" x="186.67" class="p"/><use href="#c" x="213.33" class="q"/><use href="#c" x="240" class="p"/><use href="#c" x="266.67" class="B"/><use href="#c" x="293.33" class="D"/></g>
<g transform="translate(1452.3,401)"><use href="#c" class="b"/><use href="#c" x="26.67" class="b"/><use href="#c" x="53.33" class="l"/><use href="#c" x="80" class="m"/><use href="#c" x="106.67" class="r"/><use href="#c" x="133.33" class="r"/><use href="#c" x="160" class="l"/><use href="#c" x="186.67" class="l"/><use href="#c" x="213.33" class="b"/><use href="#c" x="240" class="b"/><use href="#c" x="266.67" class="b"/><use href="#c" x="293.33" class="b"/></g>
<g transform="translate(1452.3,417)"><use href="#c" class="B"/><use href="#c" x="26.67" class="d"/><use href="#c" x="53.33" class="p"/><use href="#c" x="80" class="w"/><use href="#c" x="106.67" class="d"/><use href="#c" x="133.33" class="l"/><use href="#c" x="160" class="r"/><use href="#c" x="186.67" class="q"/><use href="#c" x="213.33" class="l"/><use href="#c" x="240" class="l"/><use href="#c" x="266.67" class="l"/><use href="#c" x="293.33" class="m"/></g>
<g transform="translate(1452.3,433)"><use href="#c" class="l"/><use href="#c" x="26.67" class="B"/><use href="#c" x="53.33" class="m"/><use href="#c" x="80" class="m"/><use href="#c" x="106.67" class="B"/><use href="#c" x="133.33" class="l"/><use href="#c" x="160" class="r"/><use href="#c" x="186.67" class="b"/><use href="#c" x="213.33" class="b"/><use href="#c" x="240" class="b"/><use href="#c" x="266.67" class="b"/><use href="#c" x="293.33" class="p"/></g>
<g transform="translate(1452.3,449)"><use href="#c" class="b"/><use href="#c" x="26.67" class="B"/><use href="#c" x="53.33" class="p"/><use href="#c" x="80" class="r"/><use href="#c" x="106.67" class="l"/><use href="#c" x="133.33" class="q"/><use href="#c" x="160" class="d"/><use href="#c" x="186.67" class="q"/><use href="#c" x="213.33" class="m"/><use href="#c" x="240" class="p"/><use href="#c" x="266.67" class="d"/><use href="#c" x="293.33" class="b"/></g>
<g transform="translate(1452.3,465)"><use href="#c" class="B"/><use href="#c" x="26.67" class="B"/><use href="#c" x="53.33" class="q"/><use href="#c" x="80" class="b"/><use href="#c" x="106.67" class="l"/><use href="#c" x="133.33" class="q"/><use href="#c" x="160" class="b"/><use href="#c" x="186.67" class="p"/><use href="#c" x="213.33" class="r"/><use href="#c" x="240" class="m"/><use href="#c" x="266.67" class="B"/><use href="#c" x="293.33" class="l"/></g>
<g transform="translate(1452.3,481)"><use href="#c" class="D"/><use href="#c" x="26.67" class="l"/><use href="#c" x="53.33" class="q"/><use href="#c" x="80" class="m"/><use href="#c" x="106.67" class="p"/><use href="#c" x="133.33" class="d"/><use href="#c" x="160" class="l"/><use href="#c" x="186.67" class="p"/><use href="#c" x="213.33" class="p"/><use href="#c" x="240" class="p"/><use href="#c" x="266.67" class="B"/><use href="#c" x="293.33" class="B"/></g>
<g transform="translate(1452.3,497)"><use href="#c" class="l"/><use href="#c" x="26.67" class="r"/><use href="#c" x="53.33" class="B"/><use href="#c" x="80" class="l"/><use href="#c" x="106.67" class="r"/><use href="#c" x="133.33" class="q"/><use href="#c" x="160" class="w"/><use href="#c" x="186.67" class="w"/><use href="#c" x="213.33" class="d"/><use href="#c" x="240" class="b"/><use href="#c" x="266.67" class="l"/><use href="#c" x="293.33" class="B"/></g>
<g transform="translate(1452.3,513)"><use href="#c" class="D"/><use href="#c" x="26.67" class="p"/><use href="#c" x="53.33" class="p"/><use href="#c" x="80" class="p"/><use href="#c" x="106.67" class="p"/><use href="#c" x="133.33" class="D"/><use href="#c" x="160" class="w"/><use href="#c" x="186.67" class="p"/><use href="#c" x="213.33" class="q"/><use href="#c" x="240" class="p"/><use href="#c" x="266.67" class="B"/><use href="#c" x="293.33" class="B"/></g>
<g transform="translate(1452.3,529)"><use href="#c" class="b"/><use href="#c" x="26.67" class="B"/><use href="#c" x="53.33" class="l"/><use href="#c" x="80" class="p"/><use href="#c" x="106.67" class="b"/><use href="#c" x="133.33" class="d"/><use href="#c" x="160" class="R"/><use href="#c" x="186.67" class="q"/><use href="#c" x="213.33" class="l"/><use href="#c" x="240" class="w"/><use href="#c" x="266.67" class="w"/><use href="#c" x="293.33" class="w"/></g>
<g transform="translate(1452.3,545)"><use href="#c" class="l"/><use href="#c" x="26.67" class="b"/><use href="#c" x="53.33" class="l"/><use href="#c" x="80" class="R"/><use href="#c" x="106.67" class="l"/><use href="#c" x="133.33" class="l"/><use href="#c" x="160" class="q"/><use href="#c" x="186.67" class="l"/><use href="#c" x="213.33" class="l"/><use href="#c" x="240" class="l"/><use href="#c" x="266.67" class="b"/><use href="#c" x="293.33" class="l"/></g>
<g transform="translate(1452.3,561)"><use href="#c" class="R"/><use href="#c" x="26.67" class="m"/><use href="#c" x="53.33" class="w"/><use href="#c" x="80" class="q"/><use href="#c" x="106.67" class="l"/><use href="#c" x="133.33" class="b"/><use href="#c" x="160" class="q"/><use href="#c" x="186.67" class="B"/><use href="#c" x="213.33" class="B"/><use href="#c" x="240" class="B"/><use href="#c" x="266.67" class="w"/><use href="#c" x="293.33" class="b"/></g>
<g transform="translate(1452.3,577)"><use href="#c" class="r"/><use href="#c" x="26.67" class="l"/><use href="#c" x="53.33" class="B"/><use href="#c" x="80" class="m"/><use href="#c" x="106.67" class="l"/><use href="#c" x="133.33" class="l"/><use href="#c" x="160" class="m"/><use href="#c" x="186.67" class="B"/><use href="#c" x="213.33" class="b"/><use href="#c" x="240" class="b"/><use href="#c" x="266.67" class="l"/><use href="#c" x="293.33" class="b"/></g>
<g transform="translate(1452.3,593)"><use href="#c" class="q"/><use href="#c" x="26.67" class="B"/><use href="#c" x="53.33" class="B"/><use href="#c" x="80" class="r"/><use href="#c" x="106.67" class="m"/><use href="#c" x="133.33" class="b"/><use href="#c" x="160" class="q"/><use href="#c" x="186.67" class="l"/><use href="#c" x="213.33" class="b"/><use href="#c" x="240" class="l"/><use href="#c" x="266.67" class="p"/><use href="#c" x="293.33" class="d"/></g>
<g transform="translate(1452.3,609)"><use href="#c" class="m"/><use href="#c" x="26.67" class="q"/><use href="#c" x="53.33" class="q"/><use href="#c" x="80" class="q"/><use href="#c" x="106.67" class="B"/><use href="#c" x="133.33" class="B"/><use href="#c" x="160" class="p"/><use href="#c" x="186.67" class="d"/><use href="#c" x="213.33" class="d"/><use href="#c" x="240" class="d"/><use href="#c" x="266.67" class="p"/><use href="#c" x="293.33" class="p"/></g>
<g transform="translate(1452.3,625)"><use href="#c" class="p"/><use href="#c" x="26.67" class="q"/><use href="#c" x="53.33" class="p"/><use href="#c" x="80" class="l"/><use href="#c" x="106.67" class="B"/><use href="#c" x="133.33" class="d"/><use href="#c" x="160" class="w"/><use href="#c" x="186.67" class="b"/><use href="#c" x="213.33" class="d"/><use href="#c" x="240" class="B"/><use href="#c" x="266.67" class="r"/><use href="#c" x="293.33" class="q"/></g>
<g transform="translate(1452.3,641)"><use href="#c" class="l"/><use href="#c" x="26.67" class="d"/><use href="#c" x="53.33" class="l"/><use href="#c" x="80" class="R"/><use href="#c" x="106.67" class="b"/><use href="#c" x="133.33" class="l"/><use href="#c" x="160" class="q"/><use href="#c" x="186.67" class="p"/><use href="#c" x="213.33" class="l"/><use href="#c" x="240" class="q"/><use href="#c" x="266.67" class="d"/><use href="#c" x="293.33" class="l"/></g>
<g transform="translate(1452.3,657)"><use href="#c" class="p"/><use href="#c" x="26.67" class="r"/><use href="#c" x="53.33" class="m"/><use href="#c" x="80" class="l"/><use href="#c" x="106.67" class="b"/><use href="#c" x="133.33" class="w"/><use href="#c" x="160" class="D"/><use href="#c" x="186.67" class="b"/><use href="#c" x="213.33" class="b"/><use href="#c" x="240" class="b"/><use href="#c" x="266.67" class="b"/><use href="#c" x="293.33" class="p"/></g>
<g transform="translate(1452.3,673)"><use href="#c" class="q"/><use href="#c" x="26.67" class="D"/><use href="#c" x="53.33" class="q"/><use href="#c" x="80" class="q"/><use href="#c" x="106.67" class="l"/><use href="#c" x="133.33" class="N"/><use href="#c" x="160" class="r"/><use href="#c" x="186.67" class="l"/><use href="#c" x="213.33" class="q"/><use href="#c" x="240" class="w"/><use href="#c" x="266.67" class="p"/><use href="#c" x="293.33" class="l"/></g>
<g transform="translate(1452.3,689)"><use href="#c" class="p"/><use href="#c" x="26.67" class="b"/><use href="#c" x="53.33" class="m"/><use href="#c" x="80" class="m"/><use href="#c" x="106.67" class="d"/><use href="#c" x="133.33" class="B"/><use href="#c" x="160" class="B"/><use href="#c" x="186.67" class="p"/><use href="#c" x="213.33" class="b"/><use href="#c" x="240" class="q"/><use href="#c" x="266.67" class="B"/><use href="#c" x="293.33" class="q"/></g>
<g transform="translate(1452.3,705)"><use href="#c" class="p"/><use href="#c" x="26.67" class="p"/><use href="#c" x="53.33" class="p"/><use href="#c" x="80" class="w"/><use href="#c" x="106.67" class="d"/><use href="#c" x="133.33" class="N"/><use href="#c" x="160" class="q"/><use href="#c" x="186.67" class="b"/><use href="#c" x="213.33" class="b"/><use href="#c" x="240" class="b"/><use href="#c" x="266.67" class="m"/><use href="#c" x="293.33" class="p"/></g>
<g transform="translate(1452.3,721)"><use href="#c" class="m"/><use href="#c" x="26.67" class="q"/><use href="#c" x="53.33" class="p"/><use href="#c" x="80" class="q"/><use href="#c" x="106.67" class="B"/><use href="#c" x="133.33" class="D"/><use href="#c" x="160" class="q"/><use href="#c" x="186.67" class="d"/><use href="#c" x="213.33" class="B"/><use href="#c" x="240" class="B"/><use href="#c" x="266.67" class="q"/><use href="#c" x="293.33" class="m"/></g>
<g transform="translate(1452.3,737)"><use href="#c" class="q"/><use href="#c" x="26.67" class="l"/><use href="#c" x="53.33" class="p"/><use href="#c" x="80" class="q"/><use href="#c" x="106.67" class="d"/><use href="#c" x="133.33" class="D"/><use href="#c" x="160" class="p"/><use href="#c" x="186.67" class="b"/><use href="#c" x="213.33" class="b"/><use href="#c" x="240" class="b"/><use href="#c" x="266.67" class="q"/><use href="#c" x="293.33" class="r"/></g>
<g transform="translate(1452.3,753)"><use href="#c" class="m"/><use href="#c" x="26.67" class="B"/><use href="#c" x="53.33" class="B"/><use href="#c" x="80" class="r"/><use href="#c" x="106.67" class="q"/><use href="#c" x="133.33" class="d"/><use href="#c" x="160" class="w"/><use href="#c" x="186.67" class="l"/><use href="#c" x="213.33" class="d"/><use href="#c" x="240" class="B"/><use href="#c" x="266.67" class="p"/><use href="#c" x="293.33" class="q"/></g>
<g transform="translate(1452.3,769)"><use href="#c" class="r"/><use href="#c" x="26.67" class="B"/><use href="#c" x="53.33" class="b"/><use href="#c" x="80" class="r"/><use href="#c" x="106.67" class="l"/><use href="#c" x="133.33" class="B"/><use href="#c" x="160" class="p"/><use href="#c" x="186.67" class="l"/><use href="#c" x="213.33" class="d"/><use href="#c" x="240" class="b"/><use href="#c" x="266.67" class="q"/><use href="#c" x="293.33" class="w"/></g>
<g transform="translate(1452.3,785)"><use href="#c" class="l"/><use href="#c" x="26.67" class="w"/><use href="#c" x="53.33" class="b"/><use href="#c" x="80" class="R"/><use href="#c" x="106.67" class="b"/><use href="#c" x="133.33" class="b"/><use href="#c" x="160" class="r"/><use href="#c" x="186.67" class="l"/><use href="#c" x="213.33" class="b"/><use href="#c" x="240" class="l"/><use href="#c" x="266.67" class="l"/><use href="#c" x="293.33" class="b"/></g>
<g transform="translate(1452.3,801)"><use href="#c" class="q"/><use href="#c" x="26.67" class="B"/><use href="#c" x="53.33" class="r"/><use href="#c" x="80" class="l"/><use href="#c" x="106.67" class="l"/><use href="#c" x="133.33" class="m"/><use href="#c" x="160" class="l"/><use href="#c" x="186.67" class="d"/><use href="#c" x="213.33" class="l"/><use href="#c" x="240" class="b"/><use href="#c" x="266.67" class="b"/><use href="#c" x="293.33" class="p"/></g>
<g transform="translate(1452.3,817)"><use href="#c" class="p"/><use href="#c" x="26.67" class="b"/><use href="#c" x="53.33" class="B"/><use href="#c" x="80" class="m"/><use href="#c" x="106.67" class="l"/><use href="#c" x="133.33" class="w"/><use href="#c" x="160" class="r"/><use href="#c" x="186.67" class="l"/><use href="#c" x="213.33" class="B"/><use href="#c" x="240" class="b"/><use href="#c" x="266.67" class="w"/><use href="#c" x="293.33" class="b"/></g>
</g>

<g id="row-labels-left" class="hl" text-anchor="end">
<text x="1090" y="29.5">GALE</text><text x="1090" y="45.5">GALE</text><text x="1090" y="61.5">GALE</text><text x="1090" y="77.5">GALE</text><text x="1090" y="93.5">GALE</text>
<text x="1090" y="109.5">GMDS</text><text x="1090" y="125.5">GMDS</text><text x="1090" y="141.5">GMDS</text>
<text x="1090" y="157.5">GMPP</text><text x="1090" y="173.5">GMPP</text><text x="1090" y="189.5">GMPP</text><text x="1090" y="205.5">GMPP</text><text x="1090" y="221.5">GMPP</text><text x="1090" y="237.5">GMPP</text><text x="1090" y="253.5">GMPP</text>
<text x="1090" y="269.5">GPI</text><text x="1090" y="285.5">GPI</text><text x="1090" y="301.5">GPI</text><text x="1090" y="317.5">GPI</text>
<text x="1090" y="333.5">HK</text><text x="1090" y="349.5">HK</text><text x="1090" y="365.5">HK</text><text x="1090" y="381.5">HK</text><text x="1090" y="397.5">HK</text><text x="1090" y="413.5">HK</text><text x="1090" y="429.5">HK</text><text x="1090" y="445.5">HK</text><text x="1090" y="461.5">HK</text><text x="1090" y="477.5">HK</text><text x="1090" y="493.5">HK</text>
<text x="1090" y="509.5">MPI</text>
<text x="1090" y="525.5">PGM</text><text x="1090" y="541.5">PGM</text><text x="1090" y="557.5">PGM</text><text x="1090" y="573.5">PGM</text><text x="1090" y="589.5">PGM</text>
<text x="1090" y="605.5">PMM</text>
<text x="1090" y="621.5">RHM</text><text x="1090" y="637.5">RHM</text><text x="1090" y="653.5">RHM</text><text x="1090" y="669.5">RHM</text><text x="1090" y="685.5">RHM</text>
<text x="1090" y="701.5">sacA</text><text x="1090" y="717.5">sacA</text><text x="1090" y="733.5">sacA</text><text x="1090" y="749.5">sacA</text><text x="1090" y="765.5">sacA</text>
<text x="1090" y="781.5">scrK</text><text x="1090" y="797.5">scrK</text><text x="1090" y="813.5">scrK</text><text x="1090" y="829.5">scrK</text>
</g>

<g id="row-labels-right" class="hl">
<text x="1776" y="31.5">scrK</text><text x="1776" y="47.5">scrK</text><text x="1776" y="63.5">scrK</text><text x="1776" y="79.5">scrK</text><text x="1776" y="95.5">scrK</text>
<text x="1776" y="111.5">SUS</text><text x="1776" y="127.5">SUS</text><text x="1776" y="143.5">SUS</text><text x="1776" y="159.5">SUS</text><text x="1776" y="175.5">SUS</text><text x="1776" y="191.5">SUS</text><text x="1776" y="207.5">SUS</text><text x="1776" y="223.5">SUS</text>
<text x="1776" y="239.5">TSTA3</text><text x="1776" y="255.5">TSTA3</text>
<text x="1776" y="271.5">GAE</text><text x="1776" y="287.5">GAE</text><text x="1776" y="303.5">GAE</text><text x="1776" y="319.5">GAE</text><text x="1776" y="335.5">GAE</text><text x="1776" y="351.5">GAE</text><text x="1776" y="367.5">GAE</text><text x="1776" y="383.5">GAE</text><text x="1776" y="399.5">GAE</text>
<text x="1776" y="415.5">UER1</text><text x="1776" y="431.5">UER1</text><text x="1776" y="447.5">UER1</text>
<text x="1776" y="463.5">UGDH</text><text x="1776" y="479.5">UGDH</text><text x="1776" y="495.5">UGDH</text><text x="1776" y="511.5">UGDH</text><text x="1776" y="527.5">UGDH</text><text x="1776" y="543.5">UGDH</text><text x="1776" y="559.5">UGDH</text>
<text x="1776" y="575.5">UGP2</text><text x="1776" y="591.5">UGP2</text><text x="1776" y="607.5">UGP2</text><text x="1776" y="623.5">UGP2</text>
<text x="1776" y="639.5">UXE</text><text x="1776" y="655.5">UXE</text><text x="1776" y="671.5">UXE</text><text x="1776" y="687.5">UXE</text><text x="1776" y="703.5">UXE</text>
<text x="1776" y="719.5">UXS1</text><text x="1776" y="735.5">UXS1</text><text x="1776" y="751.5">UXS1</text><text x="1776" y="767.5">UXS1</text><text x="1776" y="783.5">UXS1</text><text x="1776" y="799.5">UXS1</text><text x="1776" y="815.5">UXS1</text><text x="1776" y="831.5">UXS1</text>
</g>

<g id="col-labels-left" class="cl">
<text transform="translate(1092,843.5) rotate(55)">Root</text>
<text transform="translate(1118.7,843.5) rotate(55)">Stem</text>
<text transform="translate(1145.3,843.5) rotate(55)">Leaf</text>
<text transform="translate(1172,843.5) rotate(55)">Root</text>
<text transform="translate(1198.7,843.5) rotate(55)">Stem</text>
<text transform="translate(1225.3,843.5) rotate(55)">Leaf</text>
<text transform="translate(1252,843.5) rotate(55)">Root</text>
<text transform="translate(1278.7,843.5) rotate(55)">Stem</text>
<text transform="translate(1305.3,843.5) rotate(55)">Leaf</text>
<text transform="translate(1332,843.5) rotate(55)">Root</text>
<text transform="translate(1358.7,843.5) rotate(55)">Stem</text>
<text transform="translate(1385.3,843.5) rotate(55)">Leaf</text>
</g>
<g id="col-labels-right" class="cl">
<text transform="translate(1453,847.5) rotate(55)">Root</text>
<text transform="translate(1479.7,847.5) rotate(55)">Stem</text>
<text transform="translate(1506.3,847.5) rotate(55)">Leaf</text>
<text transform="translate(1533,847.5) rotate(55)">Root</text>
<text transform="translate(1559.7,847.5) rotate(55)">Stem</text>
<text transform="translate(1586.3,847.5) rotate(55)">Leaf</text>
<text transform="translate(1613,847.5) rotate(55)">Root</text>
<text transform="translate(1639.7,847.5) rotate(55)">Stem</text>
<text transform="translate(1666.3,847.5) rotate(55)">Leaf</text>
<text transform="translate(1693,847.5) rotate(55)">Root</text>
<text transform="translate(1719.7,847.5) rotate(55)">Stem</text>
<text transform="translate(1746.3,847.5) rotate(55)">Leaf</text>
</g>

<g id="groups" stroke="#000" stroke-width="2.2">
<path d="M1093,896.5 H1172 M1176,896.5 H1255 M1258,896.5 H1337 M1341,896.5 H1420"/>
<path d="M1455,899.5 H1533 M1537,899.5 H1615 M1621,899.5 H1699 M1703,899.5 H1782"/>
</g>
<g id="group-labels" class="gl">
<text x="1142" y="921">GL</text><text x="1222" y="921">CM</text><text x="1300" y="921">SZ</text><text x="1388" y="921">BT</text>
<text x="1504" y="925">GL</text><text x="1582" y="925">CM</text><text x="1660" y="925">SZ</text><text x="1747" y="925">BT</text>
</g>

<g id="colorbar">
<rect x="1872" y="23" width="28" height="426" fill="url(#cb)"/>
<g class="cl">
<text x="1910" y="45">3</text>
<text x="1910" y="113">2</text>
<text x="1910" y="180">1</text>
<text x="1910" y="247">0</text>
<text x="1908" y="315">−1</text>
<text x="1908" y="382">−2</text>
<text x="1908" y="448">−3</text>
</g>
</g>
</svg>
